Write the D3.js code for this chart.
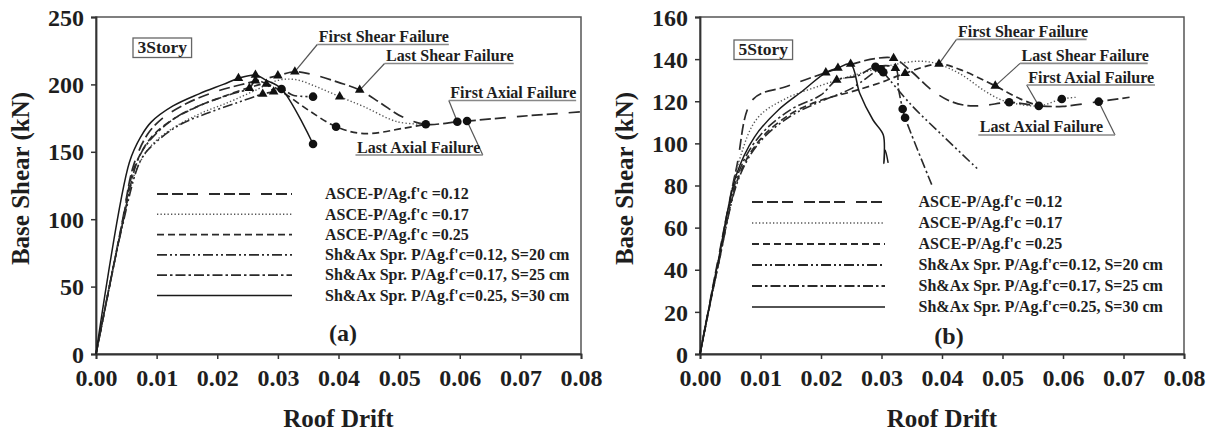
<!DOCTYPE html>
<html><head><meta charset="utf-8">
<script src="https://cdn.jsdelivr.net/npm/d3@7"></script>
<style>
body{margin:0;background:#fff}
svg{display:block}
text{font-family:"Liberation Serif","Times New Roman",serif;font-weight:bold;fill:#1e1e1e}
</style></head><body>
<svg id="c" width="1211" height="438"></svg>
<script>
// ---------- data ----------
const xTicks = [0, 0.01, 0.02, 0.03, 0.04, 0.05, 0.06, 0.07, 0.08];
const yTicks3 = [0, 50, 100, 150, 200, 250];
const yTicks5 = [0, 20, 40, 60, 80, 100, 120, 140, 160];
const seriesNames = [
  "ASCE-P/Ag.f'c =0.12",
  "ASCE-P/Ag.f'c =0.17",
  "ASCE-P/Ag.f'c =0.25",
  "Sh&Ax Spr. P/Ag.f'c=0.12, S=20 cm",
  "Sh&Ax Spr. P/Ag.f'c=0.17, S=25 cm",
  "Sh&Ax Spr. P/Ag.f'c=0.25, S=30 cm"
];
const annotationNames = ["First Shear Failure", "Last Shear Failure", "First Axial Failure", "Last Axial Failure"];

// 3 story (a)
const s3_asce012 = [[0,0],[0.0042,95],[0.0062,140],[0.0085,163],[0.011,175],[0.015,186],[0.02,195],[0.025,201],[0.030,206.5],[0.0328,209.4],[0.036,207],[0.040,201.5],[0.0435,195.8],[0.047,186],[0.0505,176],[0.0544,170.4],[0.0596,172.3],[0.0612,172.8],[0.070,176.3],[0.0803,179.7]];
const s3_asce017 = [[0,0],[0.0042,93],[0.0065,135],[0.0092,155],[0.0125,167],[0.017,178],[0.022,187],[0.026,195],[0.030,203],[0.033,203.5],[0.0365,198],[0.0402,190.9],[0.0442,183.5],[0.0497,172.3],[0.0544,170.4]];
const s3_asce025 = [[0,0],[0.0042,94],[0.0063,138],[0.009,160],[0.012,172],[0.016,182],[0.021,191],[0.0263,199],[0.0281,200.3],[0.031,193.5],[0.035,181],[0.0396,168.6],[0.0442,163.5],[0.0508,167.5],[0.0544,170.4]];
const s3_sh012 = [[0,0],[0.0042,92],[0.0074,144],[0.0096,156],[0.0138,170],[0.018,178],[0.023,186],[0.0275,192.9],[0.0293,194.6],[0.0306,196.6],[0.0325,192],[0.0358,190.9]];
const s3_sh017 = [[0,0],[0.0042,93],[0.007,145],[0.0092,160],[0.013,175],[0.018,186],[0.0225,193],[0.0253,197.1],[0.0263,202.8],[0.0281,200.3],[0.0293,194.6]];
const s3_sh025 = [[0,0],[0.0055,142],[0.0075,162],[0.0091,172],[0.0127,184],[0.017,193],[0.021,200],[0.0235,204.5],[0.0263,207],[0.0281,203],[0.0306,196.6],[0.0358,155.8]];
const s3_triangles = [[0.0235,204.5],[0.0263,207],[0.0263,202.8],[0.030,206.5],[0.0328,209.4],[0.0253,197.1],[0.0275,192.9],[0.0281,200.3],[0.0293,194.6],[0.0402,190.9],[0.0435,195.8]];
const s3_circles = [[0.0306,196.6],[0.0358,190.9],[0.0396,168.6],[0.0358,155.8],[0.0544,170.4],[0.0596,172.3],[0.0612,172.8]];
// annotation underline level, underline start/end, and pointed marker
const s3_annY = [229.6, 215.5, 188.1, 147.6];
const s3_annX1 = [0.0365, 0.0476, 0.0582, 0.0428];
const s3_annX2 = [0.0582, 0.0689, 0.0792, 0.0638];
const s3_annTarget = [[0.0328,209.4],[0.0435,195.8],[0.0596,172.3],[0.0612,172.8]];

// 5 story (b)
const s5_asce012 = [[0,0],[0.003,45],[0.006,88],[0.0088,121],[0.0143,127],[0.0208,133.6],[0.025,137.5],[0.029,140.3],[0.032,140.4],[0.035,134],[0.038,126],[0.041,120.5],[0.044,118],[0.047,118],[0.0511,119.5],[0.056,117.8],[0.060,117.6],[0.0659,119.8],[0.071,121.9]];
const s5_asce017 = [[0,0],[0.003,44],[0.0065,92],[0.0095,112],[0.014,121],[0.02,127.5],[0.025,132],[0.030,136],[0.0323,137.5],[0.036,139],[0.039,138],[0.043,133],[0.047,125],[0.0495,121],[0.0511,119.5],[0.056,117.8],[0.0598,121.1],[0.0623,121.9]];
const s5_asce025 = [[0,0],[0.003,42],[0.0065,85],[0.010,102],[0.015,114],[0.020,120.5],[0.025,124.5],[0.030,129],[0.0339,133.3],[0.0395,137.7],[0.043,135],[0.0488,127.3],[0.053,121],[0.056,117.8]];
const s5_sh012 = [[0,0],[0.003,42],[0.0065,84],[0.010,101],[0.015,113],[0.020,120],[0.025,126],[0.0299,135.2],[0.0303,133.8],[0.035,118],[0.040,104],[0.0459,87.8]];
const s5_sh017 = [[0,0],[0.003,43],[0.0065,87],[0.010,104],[0.015,116],[0.020,123],[0.0226,130.1],[0.026,132],[0.029,136.4],[0.0323,135.7],[0.0328,126],[0.0335,116.3],[0.0339,112.2],[0.0383,80.4]];
const s5_sh025 = [[0,0],[0.003,44],[0.006,85],[0.009,103],[0.013,116],[0.017,125],[0.0208,133.6],[0.0228,135.8],[0.0249,137.7],[0.0264,123.8],[0.0286,111.1],[0.0303,104],[0.0304,90.5],[0.0306,96.9],[0.0311,90.7]];
const s5_triangles = [[0.0208,133.6],[0.0228,135.8],[0.0249,137.7],[0.0226,130.1],[0.032,140.4],[0.0323,135.7],[0.0339,133.3],[0.0395,137.7],[0.0488,127.3]];
const s5_circles = [[0.029,136.4],[0.0299,135.2],[0.0303,133.8],[0.0335,116.3],[0.0339,112.2],[0.0511,119.5],[0.056,117.8],[0.0598,121.1],[0.0659,119.8]];
const s5_annY = [149.4, 138.0, 127.7, 104.0];
const s5_annX1 = [0.0424, 0.0529, 0.0540, 0.0460];
const s5_annX2 = [0.0639, 0.0740, 0.0752, 0.0686];
const s5_annTarget = [[0.0395,137.7],[0.0488,127.3],[0.056,117.8],[0.0659,119.8]];

// ---------- styles ----------
const lineStyles = [
  {dash:"11,4,11,4,11,11", w:1.7, c:"#2a2a2a"},
  {dash:"1.3,2.2", w:1.4, c:"#555"},
  {dash:"7,4", w:1.7, c:"#2a2a2a"},
  {dash:"10,3,2,3,2,3", w:1.6, c:"#2a2a2a"},
  {dash:"10,3,2.5,3", w:1.6, c:"#2a2a2a"},
  {dash:null, w:1.5, c:"#1a1a1a"}
];

const svg = d3.select("#c");

function drawPanel(cfg){
  const x = d3.scaleLinear().domain([0,0.08]).range([cfg.left, cfg.right]);
  const y = d3.scaleLinear().domain([0,cfg.yMax]).range([cfg.bottom, cfg.top]);
  const g = svg.append("g");

  // frame
  g.append("rect").attr("x",cfg.left).attr("y",cfg.top)
    .attr("width",cfg.right-cfg.left).attr("height",cfg.bottom-cfg.top)
    .attr("fill","none").attr("stroke","#555").attr("stroke-width",1.5);

  // axes
  const xa = g.append("g").attr("transform",`translate(0,${cfg.bottom})`)
    .call(d3.axisBottom(x).tickValues(xTicks).tickFormat(d3.format(".2f")).tickSize(5).tickPadding(7));
  const ya = g.append("g").attr("transform",`translate(${cfg.left},0)`)
    .call(d3.axisLeft(y).tickValues(cfg.yTicks).tickFormat(d3.format("d")).tickSize(5).tickPadding(7));
  [xa,ya].forEach(a=>{
    a.select(".domain").attr("stroke","#333").attr("stroke-width",1.8);
    a.selectAll(".tick line").attr("stroke","#333").attr("stroke-width",1.5);
    a.selectAll(".tick text").attr("font-size",24).attr("font-family","Liberation Serif").attr("font-weight","bold").attr("fill","#1e1e1e");
  });
  xa.selectAll(".tick text").attr("dy","0.85em");
  ya.selectAll(".tick text").attr("dy","0.34em");

  // axis titles
  g.append("text").attr("x",(cfg.left+cfg.right)/2).attr("y",427)
    .attr("text-anchor","middle").attr("font-size",25).text("Roof Drift");
  g.append("text").attr("transform",`translate(${cfg.left-76},${(cfg.top+cfg.bottom)/2-7}) rotate(-90)`)
    .attr("text-anchor","middle").attr("dy","0.35em").attr("font-size",25).text("Base Shear (kN)");

  // curves
  const line = d3.line().x(d=>x(d[0])).y(d=>y(d[1])).curve(d3.curveCatmullRom.alpha(0.5));
  cfg.series.forEach((s,i)=>{
    const st = lineStyles[i];
    g.append("path").attr("d",line(s)).attr("fill","none")
      .attr("stroke",st.c).attr("stroke-width",st.w)
      .attr("stroke-dasharray",st.dash);
  });

  // annotation leaders and labels
  annotationNames.forEach((name,i)=>{
    const uy = y(cfg.annY[i]), x1 = x(cfg.annX1[i]), x2 = x(cfg.annX2[i]);
    const tgt = cfg.annTarget[i];
    const fromEnd = i===3;
    g.append("line").attr("x1",fromEnd?x2:x1).attr("y1",uy)
      .attr("x2",x(tgt[0])).attr("y2",y(tgt[1]))
      .attr("stroke","#555").attr("stroke-width",1.2);
    g.append("line").attr("x1",x1).attr("x2",x2).attr("y1",uy).attr("y2",uy)
      .attr("stroke","#888").attr("stroke-width",1.6);
    g.append("text").attr("x",x1+1.5).attr("y",uy-2.5).attr("font-size",16).text(name);
  });

  // markers
  g.selectAll(".tri").data(cfg.triangles).join("path")
    .attr("d",d3.symbol(d3.symbolTriangle).size(40)())
    .attr("transform",d=>`translate(${x(d[0])},${y(d[1])})`).attr("fill","#111");
  g.selectAll(".cir").data(cfg.circles).join("circle")
    .attr("cx",d=>x(d[0])).attr("cy",d=>y(d[1])).attr("r",4.3).attr("fill","#111");

  // story box
  const sb = g.append("g").attr("transform",`translate(${cfg.left+cfg.storyDx},${cfg.top+cfg.storyDy})`);
  const st = sb.append("text").attr("x",4.5).attr("y",15).attr("font-size",17.5).text(cfg.story);
  const bw = st.node().getComputedTextLength()+9;
  sb.insert("rect","text").attr("x",0).attr("y",0).attr("width",bw).attr("height",19.5)
    .attr("fill","#fff").attr("stroke","#666").attr("stroke-width",1.3);

  // legend
  const lg = g.append("g");
  seriesNames.forEach((n,i)=>{
    const ry = cfg.top + cfg.legTop + i*cfg.legStep;
    const st = lineStyles[i];
    lg.append("line").attr("x1",cfg.left+cfg.legX1).attr("x2",cfg.left+cfg.legX2)
      .attr("y1",ry).attr("y2",ry).attr("stroke",st.c).attr("stroke-width",st.w+0.2)
      .attr("stroke-dasharray",st.dash);
    lg.append("text").attr("x",cfg.left+cfg.legText).attr("y",ry).attr("dy","0.33em")
      .attr("font-size",16).text(n);
  });

  // panel label
  g.append("text").attr("x",cfg.left+cfg.panelDx).attr("y",cfg.top+cfg.panelDy)
    .attr("text-anchor","middle").attr("dy","0.35em").attr("font-size",24).text(cfg.panel);
}

drawPanel({left:96,right:581,top:17,bottom:354,yMax:250,yTicks:yTicks3,
  series:[s3_asce012,s3_asce017,s3_asce025,s3_sh012,s3_sh017,s3_sh025],
  triangles:s3_triangles,circles:s3_circles,
  annY:s3_annY,annX1:s3_annX1,annX2:s3_annX2,annTarget:s3_annTarget,
  story:"3Story",storyDx:37,storyDy:21,
  legTop:177,legStep:20.3,legX1:61,legX2:196,legText:229,
  panel:"(a)",panelDx:247,panelDy:316});

drawPanel({left:700,right:1184,top:17,bottom:354,yMax:160,yTicks:yTicks5,
  series:[s5_asce012,s5_asce017,s5_asce025,s5_sh012,s5_sh017,s5_sh025],
  triangles:s5_triangles,circles:s5_circles,
  annY:s5_annY,annX1:s5_annX1,annX2:s5_annX2,annTarget:s5_annTarget,
  story:"5Story",storyDx:34,storyDy:23,
  legTop:185,legStep:21,legX1:52,legX2:185,legText:218.5,
  panel:"(b)",panelDx:249,panelDy:319});
</script></body></html>
